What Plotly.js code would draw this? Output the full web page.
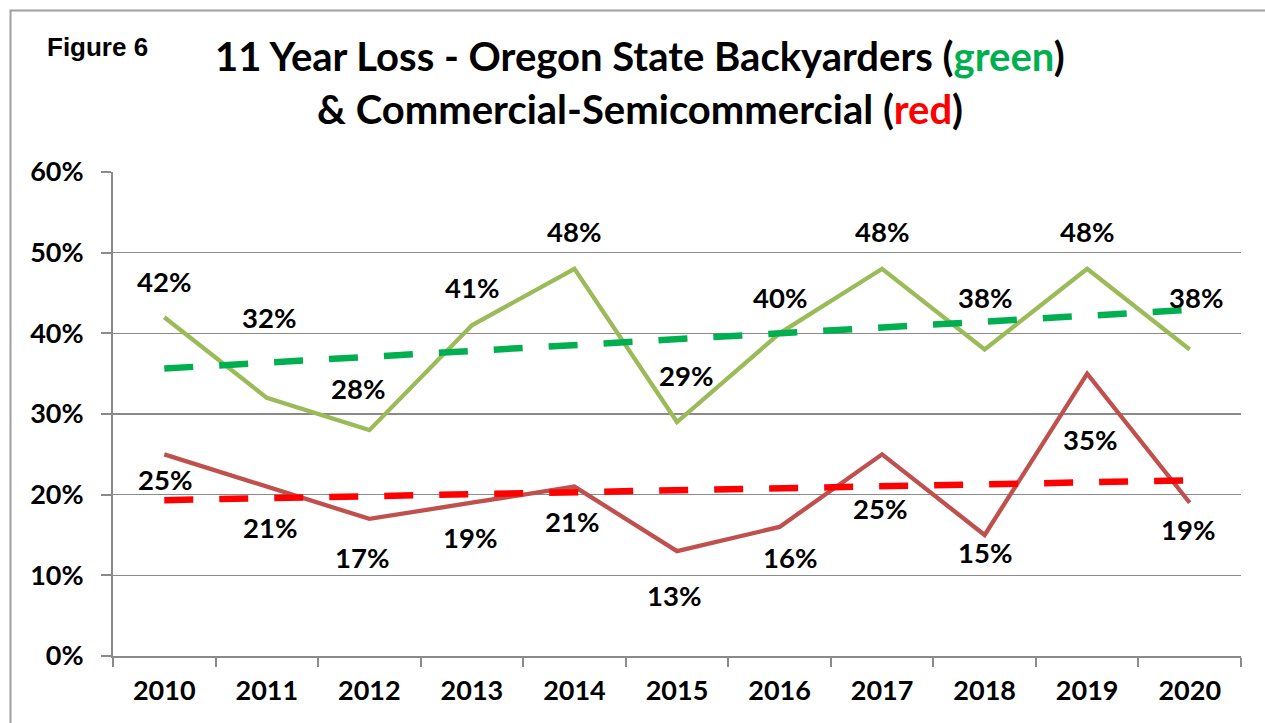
<!DOCTYPE html>
<html>
<head>
<meta charset="utf-8">
<script src="https://cdn.plot.ly/plotly-3.0.1.min.js"></script>
<style>
  html, body { margin: 0; padding: 0; background: #ffffff; }
  #chart { width: 1265px; height: 723px; }
</style>
</head>
<body>
<div id="chart"></div>
<script>
// ---- data ----
const years = ["2010","2011","2012","2013","2014","2015","2016","2017","2018","2019","2020"];
const backyarders = [42, 32, 28, 41, 48, 29, 40, 48, 38, 48, 38];   // green, % loss
const commercial  = [25, 21, 17, 19, 21, 13, 16, 25, 15, 35, 19];   // red, % loss
const yTicks = [0, 10, 20, 30, 40, 50, 60];

// ---- label placement (pixel offsets, style only) ----
const greenLabelDx = [0, 2, -11, 0, 0, 9, 0, 0, 0, 0, 6];
const greenLabelDy = [-36, -80, -42, -38, -37, -47, -36, -37, -52, -37, -52];
const redLabelDx   = [1, 3, -7, -2, -2, -3, 10, -2, 0, 3, -2];
const redLabelDy   = [25, 41, 39, 35, 35, 44, 31, 54, 17, 66, 27];

// linear trend (least squares over category index), like a spreadsheet trendline
function trend(vals) {
  const n = vals.length;
  let sx = 0, sy = 0, sxx = 0, sxy = 0;
  vals.forEach((v, i) => { sx += i; sy += v; sxx += i * i; sxy += i * v; });
  const b = (n * sxy - sx * sy) / (n * sxx - sx * sx);
  const a = (sy - b * sx) / n;
  return [a, a + b * (n - 1)];
}

const FONT = "Lato, 'Open Sans', sans-serif";
const GRID = "#8a8a8a";

const traces = [
  { x: years, y: backyarders, type: "scatter", mode: "lines",
    line: { color: "#9BBB59", width: 4.3 }, hoverinfo: "skip", showlegend: false },
  { x: years, y: commercial, type: "scatter", mode: "lines",
    line: { color: "#C0504D", width: 4.3 }, hoverinfo: "skip", showlegend: false },
  { x: [years[0], years[years.length - 1]], y: trend(backyarders), type: "scatter", mode: "lines",
    line: { color: "#00B050", width: 6.5, dash: "29px,26px" }, hoverinfo: "skip", showlegend: false },
  { x: [years[0], years[years.length - 1]], y: trend(commercial), type: "scatter", mode: "lines",
    line: { color: "#FF0000", width: 6.5, dash: "29px,26px" }, hoverinfo: "skip", showlegend: false }
];

const annotations = [];
years.forEach((yr, i) => {
  annotations.push({ x: i, y: backyarders[i], xref: "x", yref: "y", text: backyarders[i] + "%",
    showarrow: false, xshift: greenLabelDx[i], yshift: -greenLabelDy[i],
    font: { family: FONT, size: 27.5, color: "#000000", weight: 700 } });
  annotations.push({ x: i, y: commercial[i], xref: "x", yref: "y", text: commercial[i] + "%",
    showarrow: false, xshift: redLabelDx[i], yshift: -redLabelDy[i],
    font: { family: FONT, size: 27.5, color: "#000000", weight: 700 } });
});

// titles
annotations.push({ xref: "paper", yref: "paper", x: 0.4672, y: 1.2396, xanchor: "center", yanchor: "middle",
  showarrow: false,
  text: "11 Year Loss - Oregon State Backyarders (<span style='color:#00B050'>green</span>)",
  font: { family: FONT, size: 40, color: "#000000", weight: 700 } });
annotations.push({ xref: "paper", yref: "paper", x: 0.4672, y: 1.130, xanchor: "center", yanchor: "middle",
  showarrow: false,
  text: "& Commercial-Semicommercial (<span style='color:#FF0000'>red</span>)",
  font: { family: FONT, size: 40, color: "#000000", weight: 700 } });
annotations.push({ xref: "paper", yref: "paper", x: -0.0133, y: 1.258, xanchor: "center", yanchor: "middle",
  showarrow: false, text: "Figure 6",
  font: { family: "'Liberation Sans', Arial, sans-serif", size: 26, color: "#000000", weight: 700 } });

const layout = {
  width: 1265, height: 723,
  margin: { l: 113, r: 24, t: 172, b: 67 },
  paper_bgcolor: "#ffffff", plot_bgcolor: "#ffffff",
  showlegend: false,
  xaxis: {
    type: "category", range: [-0.5, years.length - 0.5],
    showgrid: false, zeroline: false,
    showline: true, linecolor: GRID, linewidth: 2,
    ticks: "outside", tickson: "boundaries", ticklen: 9, tickcolor: GRID, tickwidth: 2,
    tickfont: { family: FONT, size: 27, color: "#000000", weight: 700 },
    ticklabelstandoff: 10, fixedrange: true
  },
  yaxis: {
    range: [0, 60], tickvals: yTicks, ticktext: yTicks.map(v => v + "%"),
    showgrid: true, gridcolor: GRID, gridwidth: 1.5, zeroline: false,
    showline: true, linecolor: GRID, linewidth: 2,
    ticks: "outside", ticklen: 10, tickcolor: GRID, tickwidth: 2,
    tickfont: { family: FONT, size: 27, color: "#000000", weight: 700 },
    ticklabelstandoff: 12, fixedrange: true
  },
  annotations: annotations,
  shapes: [
    { type: "rect", xref: "paper", yref: "paper",
      x0: (10.5 - 113) / 1128, x1: (1275 - 113) / 1128,
      y0: (656 - 740) / 484, y1: (656 - 10.5) / 484,
      line: { color: "#a0a0a0", width: 2 }, fillcolor: "rgba(0,0,0,0)", layer: "below" }
  ]
};

Plotly.newPlot("chart", traces, layout, { displayModeBar: false, staticPlot: true });
</script>
</body>
</html>
